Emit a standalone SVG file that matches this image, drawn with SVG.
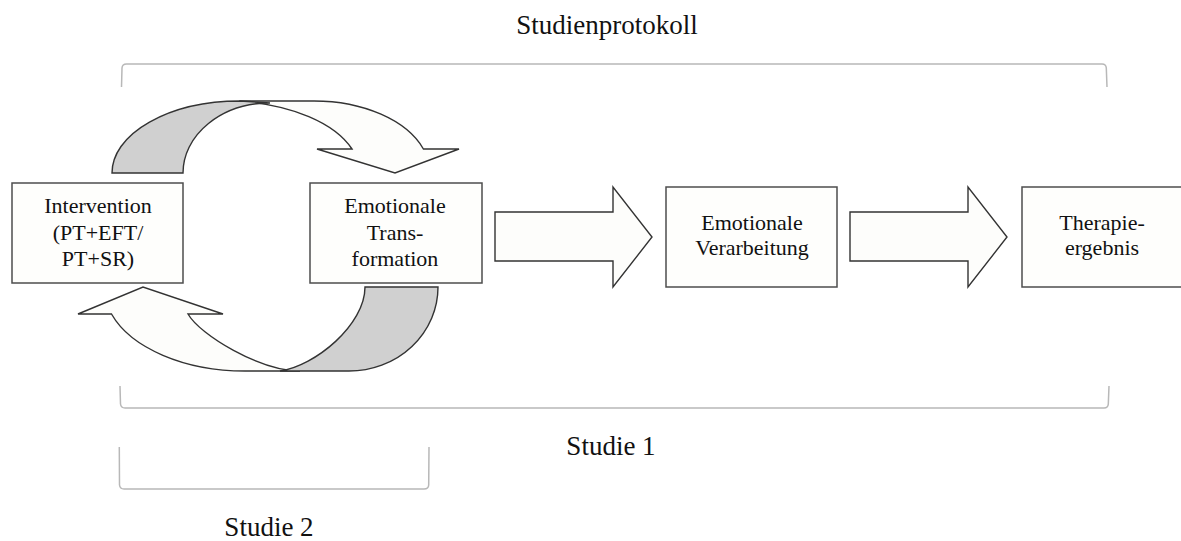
<svg xmlns="http://www.w3.org/2000/svg" width="1181" height="541" viewBox="0 0 1181 541">
<style>
  .box { fill: #fefefc; stroke: #4d4d4d; stroke-width: 1.5; }
  .txt { font-family: "Liberation Serif", "Times New Roman", serif; font-size: 22px; fill: #111; text-anchor: middle; }
  .lbl { font-family: "Liberation Serif", "Times New Roman", serif; font-size: 27px; fill: #111; text-anchor: middle; }
  .arr { fill: #fdfdfb; stroke: #333; stroke-width: 1.4; stroke-linejoin: miter; }
  .back { fill: #d0d0d0; stroke: #333; stroke-width: 1.4; }
  .brk { fill: none; stroke: #b8b8b8; stroke-width: 1.5; }
</style>
<rect width="1181" height="541" fill="#ffffff"/>

<g id="title"><text class="lbl" x="607" y="34">Studienprotokoll</text></g>

<g id="brackets">
  <path class="brk" d="M121.5,87 L122,68 Q122.3,64 126.5,64 L1102,64 Q1106,64 1106.3,68 L1107,87"/>
  <path class="brk" d="M120,386 L120.5,404 Q121,408 125,408 L1104,408 Q1108,408 1108.3,404 L1109,386"/>
  <path class="brk" d="M119.3,447 L119.5,485 Q120,489 124,489 L424,489 Q428.5,489 428.7,485 L429,447"/>
</g>

<g id="connectors">
  <!-- top curved arrow -->
  <path class="arr" d="M240,101 L314,101 A116,72 0 0 1 423.4,149 L459,149 L395,173 L317,149 L352,149 A135,72 0 0 0 240,101.4 Z"/>
  <path class="back" d="M112,173 A128,72 0 0 1 240,101 L270,103 A87,70 0 0 0 183,173 Z"/>
  <!-- bottom curved arrow -->
  <path class="arr" d="M111.5,314 L78,314 L143,287 L223,314 L188,314 C200,335 260,371 300,371 L245,371 A141,84 0 0 1 111.5,314 Z"/>
  <path class="back" d="M365,287 L438,287 A89,84 0 0 1 349,371 L280,371 C315,366 365,325 365,287 Z"/>
  <!-- block arrows -->
  <path class="arr" d="M495,212 L613,212 L613,187 L652,237 L613,287 L613,261 L495,261 Z"/>
  <path class="arr" d="M850,212 L968,212 L968,187 L1007,237 L968,287 L968,261 L850,261 Z"/>
</g>

<g id="node-intervention">
  <rect class="box" x="12" y="183" width="171" height="100"/>
  <text class="txt" x="98" y="213">Intervention</text>
  <text class="txt" x="98" y="240">(PT+EFT/</text>
  <text class="txt" x="98" y="266">PT+SR)</text>
</g>

<g id="node-transformation">
  <rect class="box" x="310" y="183" width="172" height="100"/>
  <text class="txt" x="395" y="213">Emotionale</text>
  <text class="txt" x="395" y="240">Trans-</text>
  <text class="txt" x="395" y="266">formation</text>
</g>

<g id="node-verarbeitung">
  <rect class="box" x="666" y="187" width="171" height="100"/>
  <text class="txt" x="752" y="230">Emotionale</text>
  <text class="txt" x="752" y="255">Verarbeitung</text>
</g>

<g id="node-therapieergebnis">
  <rect class="box" x="1022" y="187" width="171" height="100"/>
  <text class="txt" x="1102" y="230">Therapie-</text>
  <text class="txt" x="1102" y="255">ergebnis</text>
</g>

<g id="labels">
  <text class="lbl" x="611" y="455">Studie 1</text>
  <text class="lbl" x="269" y="536">Studie 2</text>
</g>
</svg>
